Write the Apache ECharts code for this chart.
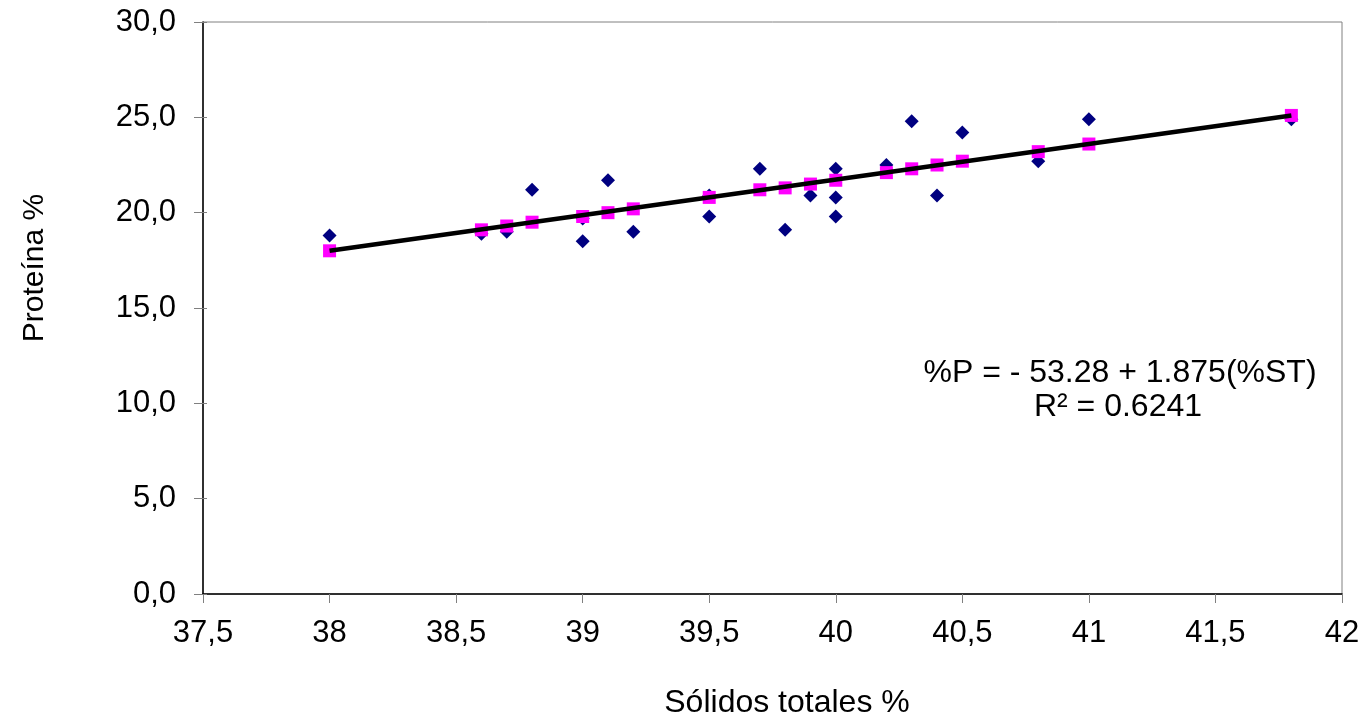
<!DOCTYPE html>
<html>
<head>
<meta charset="utf-8">
<script src="https://cdn.jsdelivr.net/npm/echarts@6/dist/echarts.min.js"></script>
<style>
  html, body { margin: 0; padding: 0; background: #fff; }
  #chart { width: 1371px; height: 720px; }
</style>
</head>
<body>
<div id="chart"></div>
<script>
// observed points (sólidos totales %, proteína %)
const obsX = [38.0, 38.6, 38.7, 38.8, 39.0, 39.0, 39.1, 39.2, 39.5, 39.5, 39.7, 39.8,
  39.9, 40.0, 40.0, 40.0, 40.2, 40.3, 40.4, 40.5, 40.8, 41.0, 41.8];
const obsY = [18.8, 18.9, 19.0, 21.2, 18.5, 19.7, 21.7, 19.0, 20.9, 19.8, 22.3, 19.1,
  20.9, 22.3, 20.8, 19.8, 22.5, 24.8, 20.9, 24.2, 22.7, 24.9, 24.9];

// predicted points (pink squares)
const predX = [38.0, 38.6, 38.7, 38.8, 39.0, 39.1, 39.2, 39.5, 39.7, 39.8, 39.9, 40.0,
  40.2, 40.3, 40.4, 40.5, 40.8, 41.0, 41.8];
const predY = [18.0, 19.1, 19.3, 19.5, 19.8, 20.0, 20.2, 20.8, 21.2, 21.3, 21.5, 21.7,
  22.1, 22.3, 22.5, 22.7, 23.2, 23.6, 25.1];

// trend line ends
const lineX = [38.0, 41.8];
const lineY = [18.0, 25.1];

const eqLines = ['%P = - 53.28 + 1.875(%ST)', 'R² = 0.6241'];

const FONT = '"Liberation Sans", Arial, sans-serif';
const zip = (xs, ys) => xs.map((x, i) => [x, ys[i]]);

const chart = echarts.init(document.getElementById('chart'));

const xBase = { type: 'value', min: 37.5, max: 42, interval: 0.5 };
const yBase = { type: 'value', min: 0, max: 30, interval: 5 };

chart.setOption({
  animation: false,
  backgroundColor: '#fff',
  grid: {
    left: 203, right: 29, top: 22, bottom: 126,
    show: true, borderColor: '#808080', borderWidth: 1
  },
  xAxis: [
    Object.assign({}, xBase, {
      axisLine: { lineStyle: { color: '#000', width: 1.5 } },
      axisTick: { length: 9, lineStyle: { color: '#808080' } },
      splitLine: { show: false },
      axisLabel: {
        margin: 24, color: '#000', fontSize: 31, fontFamily: FONT,
        formatter: v => String(v).replace('.', ',')
      }
    }),
    Object.assign({}, xBase, {
      axisLine: { show: false },
      axisTick: { inside: true, length: 4, lineStyle: { color: '#808080' } },
      axisLabel: { show: false },
      splitLine: { show: false }
    })
  ],
  yAxis: [
    Object.assign({}, yBase, {
      axisLine: { show: true, lineStyle: { color: '#000', width: 1.5 } },
      axisTick: { show: true, length: 9, lineStyle: { color: '#808080' } },
      splitLine: { show: false },
      axisLabel: {
        margin: 27, color: '#000', fontSize: 31, fontFamily: FONT,
        formatter: v => v.toFixed(1).replace('.', ',')
      }
    }),
    Object.assign({}, yBase, {
      position: 'left',
      axisLine: { show: false },
      axisTick: { show: true, inside: true, length: 4, lineStyle: { color: '#808080' } },
      axisLabel: { show: false },
      splitLine: { show: false }
    })
  ],
  series: [
    {
      type: 'scatter',
      symbol: 'diamond',
      symbolSize: 14,
      itemStyle: { color: '#000080', opacity: 1 },
      data: zip(obsX, obsY),
      z: 2
    },
    {
      type: 'scatter',
      symbol: 'rect',
      symbolSize: 13,
      itemStyle: { color: '#FF00FF', opacity: 1 },
      data: zip(predX, predY),
      z: 3
    },
    {
      type: 'line',
      showSymbol: false,
      symbol: 'none',
      lineStyle: { color: '#000', width: 4.5 },
      data: zip(lineX, lineY),
      z: 4
    }
  ],
  graphic: [
    {
      type: 'text',
      style: { x: 1120, y: 373, text: eqLines[0], fill: '#000', font: '32px ' + FONT,
        textAlign: 'center', textVerticalAlign: 'middle' }
    },
    {
      type: 'text',
      style: { x: 1118, y: 407, text: eqLines[1], fill: '#000', font: '32px ' + FONT,
        textAlign: 'center', textVerticalAlign: 'middle' }
    },
    {
      type: 'text',
      style: { x: 787, y: 703, text: 'Sólidos totales %', fill: '#000', font: '32px ' + FONT,
        textAlign: 'center', textVerticalAlign: 'middle' }
    },
    {
      type: 'text',
      rotation: Math.PI / 2,
      x: 35, y: 268,
      style: { x: 0, y: 0, text: 'Proteína %', fill: '#000', font: '30px ' + FONT,
        textAlign: 'center', textVerticalAlign: 'middle' }
    }
  ]
});
</script>
</body>
</html>
